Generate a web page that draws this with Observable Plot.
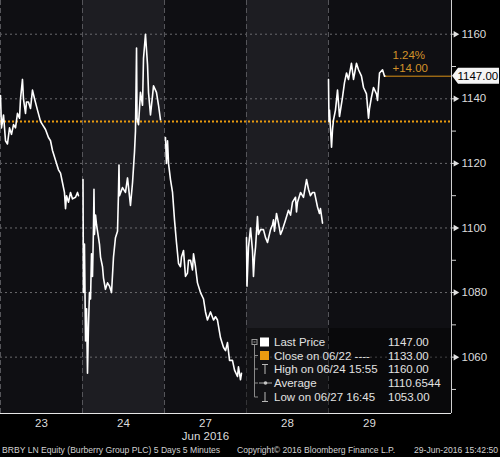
<!DOCTYPE html>
<html><head><meta charset="utf-8">
<script src="https://cdn.jsdelivr.net/npm/d3@7"></script>
<script src="https://cdn.jsdelivr.net/npm/@observablehq/plot@0.6"></script>
<style>
body{margin:0;background:#000;font-family:"Liberation Sans",Arial,sans-serif;}
#wrap{position:relative;width:500px;height:457px;overflow:hidden;background:#000;}
#legend{position:absolute;left:246px;top:328px;width:205px;height:85px;background:rgba(0,0,0,0.38);}
#legend .row{position:absolute;left:0;width:205px;height:14px;line-height:14px;font-size:11.5px;color:#e2e2e2;white-space:nowrap;}
#legend .lab{position:absolute;left:28px;}
#legend .val{position:absolute;left:142px;}
#footer span{position:absolute;top:444px;font-size:8.6px;line-height:12px;color:#d2d2d2;white-space:nowrap;}
</style></head>
<body><div id="wrap"><div id="chart"></div><div id="legend"></div><div id="footer"></div></div>
<script>
// ---- data ----
const days = ["23", "24", "27", "28", "29"];
const monthLabel = "Jun 2016";
// [share of trading session elapsed, price]
const day23 = [[0,1141],[.012,1131],[.037,1135],[.061,1127],[.085,1126],[.11,1131],[.134,1129],[.159,1132],[.183,1131],[.207,1135.5],[.232,1134],[.244,1140],[.268,1146],[.28,1140],[.305,1135.5],[.317,1139],[.341,1139],[.366,1137],[.39,1142.7],[.415,1140],[.451,1136.5],[.488,1133],[.512,1132],[.549,1130.5],[.585,1128],[.61,1127],[.634,1124],[.671,1121],[.707,1118],[.732,1117],[.756,1114],[.78,1111],[.793,1106],[.805,1110],[.829,1108],[.854,1111],[.878,1109],[.915,1109.5],[.939,1111],[.951,1110]];
const day24 = [[.006,1115],[.012,1080],[.024,1095],[.037,1065],[.049,1075],[.061,1055],[.073,1070],[.085,1080],[.098,1078],[.11,1092],[.122,1085],[.134,1100],[.14,1112],[.146,1098],[.159,1104],[.171,1101],[.183,1099],[.207,1095],[.22,1091],[.244,1088],[.256,1084.5],[.28,1081],[.305,1083],[.329,1082],[.354,1080],[.378,1091],[.402,1097],[.427,1099],[.439,1111],[.445,1119.5],[.451,1110],[.488,1112.5],[.524,1111],[.549,1115.5],[.585,1107],[.61,1114],[.634,1123.5],[.646,1130],[.659,1155.7],[.665,1134],[.683,1132],[.707,1142],[.732,1138],[.744,1152.5],[.768,1160],[.793,1150.5],[.805,1142],[.829,1135],[.854,1141],[.866,1144],[.902,1142],[.927,1138],[.951,1133.5]];
const day27 = [[.012,1128],[.024,1120],[.037,1127],[.049,1120],[.073,1115],[.098,1111],[.122,1102.5],[.146,1095.5],[.171,1089],[.195,1088],[.207,1091],[.232,1093],[.256,1085],[.28,1086],[.293,1090],[.317,1090],[.341,1087],[.354,1092],[.378,1088],[.402,1083],[.439,1080],[.476,1078],[.5,1074],[.524,1071.5],[.561,1074],[.598,1071.5],[.622,1072.5],[.646,1071.5],[.683,1066],[.72,1063],[.744,1062],[.768,1064.5],[.793,1059],[.829,1059],[.854,1056],[.89,1054],[.902,1057],[.927,1053],[.939,1055]];
const day28 = [[0,1097],[.006,1082],[.024,1094],[.049,1100],[.073,1093],[.085,1085],[.098,1091],[.11,1094],[.134,1103.5],[.146,1098],[.171,1099.5],[.207,1099.5],[.232,1097],[.256,1095.5],[.293,1099.5],[.317,1101],[.329,1102.5],[.341,1099],[.366,1104.5],[.39,1101.5],[.415,1098],[.439,1099.5],[.476,1102.5],[.512,1105.5],[.537,1104],[.561,1108],[.598,1109.5],[.61,1105],[.622,1108],[.659,1111],[.695,1109.5],[.732,1115],[.756,1112],[.78,1110],[.805,1111],[.829,1111],[.866,1106.5],[.89,1104.5],[.902,1106],[.927,1101.5]];
const day29 = [[0,1146],[.006,1133],[.012,1136.5],[.037,1125],[.049,1130.5],[.061,1133.5],[.085,1136.5],[.11,1142.7],[.134,1134.5],[.171,1140.5],[.195,1145],[.22,1148],[.244,1146],[.28,1151],[.305,1146],[.341,1151],[.366,1149],[.402,1147],[.427,1143.5],[.463,1141.5],[.488,1134],[.5,1137],[.524,1140.5],[.549,1143.5],[.585,1141.5],[.598,1139.5],[.622,1148],[.659,1149],[.683,1147],[.695,1147]];
const yTicks = [1060, 1080, 1100, 1120, 1140, 1160];
const yMinorTicks = [1050, 1070, 1090, 1110, 1130, 1150];
const prevClose = 1133.00;
const lastPrice = 1147.00;
const highPrice = 1160.00;
const lowPrice = 1053.00;
const averagePrice = 1110.6544;
const legendLabels = ["Last Price", "Close on 06/22 ----", "High on 06/24 15:55", "Average", "Low on 06/27 16:45"];
const footerTexts = ["BRBY LN Equity (Burberry Group PLC) 5 Days 5 Minutes", "Copyright\u00A9 2016 Bloomberg Finance L.P.", "29-Jun-2016 15:42:50"];

// ---- build ----
const sessions = [day23, day24, day27, day28, day29];
const prices = sessions.flatMap((s, i) => s.map(([t, p]) => ({day: days[i], x: i + t, p})));
const last = prices[prices.length - 1];
const yDom = [1042.55, 1170.44];
const xEnd = 5.5;
const bands = d3.range(6).map(i => ({x1: i, x2: Math.min(i + 1, xEnd), light: i % 2 === 1 && i < 5}));
const change = lastPrice - prevClose;
const pct = change / prevClose * 100;
const ORANGE = "#e89a10";

const chart = Plot.plot({
  width: 500, height: 443,
  marginTop: 0, marginRight: 49, marginBottom: 30, marginLeft: 0,
  x: {domain: [0, xEnd], axis: null},
  y: {domain: yDom, axis: null},
  style: {background: "transparent", color: "#dcdcdc", fontFamily: "'Liberation Sans', Arial, sans-serif", fontSize: "11.5px"},
  marks: [
    Plot.rect(bands, {x1: "x1", x2: "x2", y1: yDom[0], y2: yDom[1], fill: d => d.light ? "#1d1d22" : "#0f0f13"}),
    Plot.ruleY(yTicks, {x1: 0, x2: xEnd, stroke: "#6a6a6e", strokeDasharray: "2,3"}),
    Plot.ruleX(d3.range(5), {y1: yDom[0], y2: yDom[1], stroke: "#55555a", strokeDasharray: "5,3"}),
    Plot.ruleY([prevClose], {x1: 0, x2: xEnd, stroke: ORANGE, strokeWidth: 2, strokeDasharray: "2,2"}),
    Plot.line(prices, {x: "x", y: "p", z: "day", stroke: "#ffffff", strokeWidth: 1.6}),
    Plot.ruleY([lastPrice], {x1: last.x, x2: xEnd, stroke: "#d99016", strokeWidth: 1}),
    Plot.text([pct.toFixed(2) + "%"], {x: last.x, y: lastPrice, dx: 7, dy: -21, text: d => d, textAnchor: "start", fill: "#d3922a", fontSize: 11.5}),
    Plot.text([(change >= 0 ? "+" : "") + change.toFixed(2)], {x: last.x, y: lastPrice, dx: 7, dy: -8, text: d => d, textAnchor: "start", fill: "#d3922a", fontSize: 11.5}),
    Plot.ruleX([xEnd], {y1: yDom[0], y2: yDom[1], stroke: "#d0d0d0"}),
    Plot.ruleY([yDom[0]], {x1: 0, x2: xEnd, stroke: "#e6e6e6"}),
    Plot.axisY(yMinorTicks, {anchor: "right", tickSize: 4, tickFormat: () => "", label: null, stroke: "#cfcfcf"}),
    Plot.axisY(yTicks, {anchor: "right", tickSize: 3, tickPadding: 7, tickFormat: d => String(d), label: null, stroke: "#dcdcdc", fill: "#dcdcdc", fontSize: 11.5}),
    Plot.dot(yTicks, {x: xEnd, y: d => d, symbol: "triangle", rotate: 90, r: 2.4, fill: "#e0e0e0", dx: 4}),
    Plot.text(days, {x: (d, i) => i + 0.5, y: yDom[0], dy: 10, text: d => d, fill: "#dcdcdc", fontSize: 11.5}),
    Plot.text([monthLabel], {x: 2.5, y: yDom[0], dy: 23, text: d => d, fill: "#dcdcdc", fontSize: 11.5})
  ]
});
document.getElementById("chart").appendChild(chart);

// last price tag on the right axis
const svg = d3.select(chart);
const X0 = chart.scale("x").apply(xEnd) + 1;
const Y0 = chart.scale("y").apply(lastPrice);
const tag = svg.append("g").attr("text-anchor", "start");
tag.append("polygon")
  .attr("points", [[X0, Y0], [X0 + 6, Y0 - 8], [X0 + 47, Y0 - 8], [X0 + 47, Y0 + 8], [X0 + 6, Y0 + 8]].map(p => p.join(",")).join(" "))
  .attr("fill", "#f4f4f4");
tag.append("text").attr("x", X0 + 5.5).attr("y", Y0).attr("dy", "0.35em")
  .attr("text-anchor", "start")
  .attr("fill", "#000").attr("font-size", 11.5).text(lastPrice.toFixed(2));

// legend
const legend = document.getElementById("legend");
const rowCenters = [14, 27.5, 41, 55, 69];
const legendValues = [lastPrice.toFixed(2), prevClose.toFixed(2), highPrice.toFixed(2), averagePrice.toFixed(4), lowPrice.toFixed(2)];
const icon = `<svg width="30" height="85" style="position:absolute;left:0;top:0">
  <rect x="6" y="11.5" width="5" height="5" fill="none" stroke="#9a9a9a"/>
  <line x1="7.5" y1="14" x2="9.5" y2="14" stroke="#9a9a9a"/>
  <line x1="8.5" y1="16.5" x2="8.5" y2="69" stroke="#8a8a8a"/>
  ${[27.5, 41, 55, 69].map(y => `<line x1="8.5" y1="${y}" x2="12" y2="${y}" stroke="#8a8a8a"/>`).join("")}
  <rect x="14" y="9.5" width="9" height="9" fill="#ffffff"/>
  <rect x="14" y="23" width="9" height="9" fill="${ORANGE}"/>
  <line x1="19" y1="36.5" x2="19" y2="46" stroke="#b8b8b8"/>
  <line x1="16" y1="36.5" x2="22" y2="36.5" stroke="#b8b8b8"/>
  <line x1="13" y1="55" x2="26" y2="55" stroke="#a8a8a8"/>
  <circle cx="19.5" cy="55" r="1.8" fill="#c8c8c8"/>
  <line x1="19" y1="64" x2="19" y2="73.5" stroke="#b8b8b8"/>
  <line x1="16" y1="73.5" x2="22" y2="73.5" stroke="#b8b8b8"/>
</svg>`;
legend.innerHTML = icon + legendLabels.map((l, i) =>
  `<div class="row" style="top:${rowCenters[i] - 7}px"><span class="lab">${l}</span><span class="val">${legendValues[i]}</span></div>`).join("");

// footer
const footerLeft = [2, 237, 414];
document.getElementById("footer").innerHTML = footerTexts.map((t, i) => `<span style="left:${footerLeft[i]}px">${t}</span>`).join("");
</script>
</body></html>
